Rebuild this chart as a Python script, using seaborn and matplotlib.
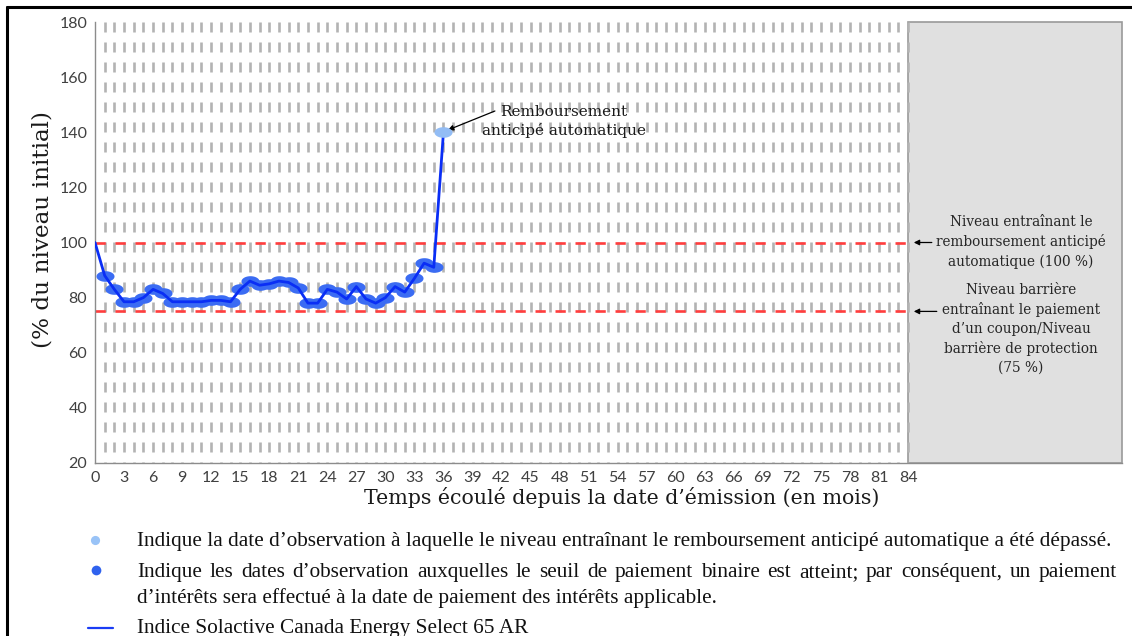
import numpy as np
import matplotlib
matplotlib.use("Agg")
import matplotlib.pyplot as plt
import seaborn as sns
from matplotlib.path import Path
from matplotlib.markers import MarkerStyle
from matplotlib.lines import Line2D

# ---------------- data ----------------
months = list(range(0, 37))
index_level = [100, 88, 83, 78.5, 78.5, 80, 83, 81.5, 78.5, 78.5, 78.5, 78.5, 79, 79,
               78.5, 83, 86, 84.5, 85, 86, 85.5, 83.5, 78, 78, 83, 82, 79.5, 84, 79.5,
               78, 80, 84, 82, 87, 92.5, 91, 140]
coupon_months = list(range(1, 36))
autocall_months = [36]
autocall_barrier = 100
coupon_barrier = 75
term_months = 84
x_ticks = list(range(0, 85, 3))
y_ticks = list(range(20, 181, 20))
grid_months = list(range(1, 85))

xlabel = "Temps écoulé depuis la date d’émission (en mois)"
ylabel = "(% du niveau initial)"
note_autocall = ["Remboursement", "anticipé automatique"]
note_100 = ["Niveau entraînant le", "remboursement anticipé", "automatique (100 %)"]
note_75 = ["Niveau barrière", "entraînant le paiement", "d’un coupon/Niveau",
           "barrière de protection", "(75 %)"]
legend_1 = "Indique la date d’observation à laquelle le niveau entraînant le remboursement anticipé automatique a été dépassé."
legend_2a = "Indique les dates d’observation auxquelles le seuil de paiement binaire est atteint; par conséquent, un paiement"
legend_2b = "d’intérêts sera effectué à la date de paiement des intérêts applicable."
legend_3 = "Indice Solactive Canada Energy Select 65 AR"

# ---------------- style ----------------
sns.set_theme(style="white")
plt.rcParams['lines.scale_dashes'] = False
plt.rcParams['font.family'] = ['DejaVu Sans']

W, H = 1132, 636
fig = plt.figure(figsize=(W / 100, H / 100), dpi=100)
fig.patch.set_facecolor('white')


def fx(px):
    return px / W


def fy(py):
    return 1 - py / H


ax = fig.add_axes([fx(95), fy(463), fx(1122) - fx(95), fy(22) - fy(463)])
ax.set_facecolor('white')
XMAX = 106.1
ax.set_xlim(0, XMAX)
ax.set_ylim(20, 180)

# shaded region after maturity
ax.axvspan(term_months, XMAX, facecolor='#e0e0e0', edgecolor='#9a9a9a',
           linewidth=1.2, zorder=0.5, clip_on=False)

# vertical dashed grid
ax.vlines(grid_months, 180, 20, colors='#b3b3b3', linewidth=1.9,
          linestyles=[(0, (7.2, 7.2))], zorder=1)

# barrier lines
ax.hlines([autocall_barrier, coupon_barrier], 0, term_months, colors='#ff3d3d',
          linewidth=1.9, linestyles=[(0, (7.4, 7.0))], zorder=2)

# ellipse marker
t = np.linspace(0, 2 * np.pi, 64)
ellipse = MarkerStyle(Path(np.column_stack([1.7 * np.cos(t), np.sin(t)])))

sns.scatterplot(x=coupon_months, y=[index_level[m] for m in coupon_months], ax=ax,
                marker=ellipse, s=13 ** 2, color='#3b6cf3', linewidth=0, zorder=3)
sns.lineplot(x=months, y=index_level, ax=ax, color='#0a2ef5', linewidth=2.0, zorder=4)
sns.scatterplot(x=autocall_months, y=[index_level[m] for m in autocall_months], ax=ax,
                marker=ellipse, s=13 ** 2, color='#93bdf5', linewidth=0, zorder=5)

# ticks and spines
ax.set_xticks(x_ticks)
ax.set_yticks(y_ticks)
ax.tick_params(axis='both', direction='out', length=4, width=1, color='#8c8c8c',
               labelcolor='#404040', labelsize=11.5, pad=1.5)
for lab in ax.get_xticklabels() + ax.get_yticklabels():
    lab.set_family('Lato')
for s in ['top', 'right']:
    ax.spines[s].set_visible(False)
for s in ['left', 'bottom']:
    ax.spines[s].set_color('#8c8c8c')
    ax.spines[s].set_linewidth(1.0)
ax.grid(False)

ax.set_xlabel(xlabel, family='DejaVu Serif', fontsize=14, color='#1a1a1a')
ax.set_ylabel(ylabel, family='DejaVu Serif', fontsize=14, color='#1a1a1a')
ax.xaxis.label.set_va('center')
ax.yaxis.label.set_va('center')
ax.xaxis.set_label_coords((622 - 95) / (1122 - 95), (463 - 497) / 441)
ax.yaxis.set_label_coords((43 - 95) / (1122 - 95), (463 - 229) / 441)

# annotations
xd = lambda px: (px - 95) / 9.682
yd = lambda py: 180 - (py - 22) / 2.756
arrow_kw = dict(arrowstyle='-|>', color='black', lw=0.9, mutation_scale=8,
                shrinkA=0, shrinkB=0)
ax.annotate('', xy=(xd(448), yd(130)), xytext=(xd(495), yd(111)), arrowprops=arrow_kw,
            annotation_clip=False)
ax.annotate('', xy=(xd(914), autocall_barrier), xytext=(xd(932), autocall_barrier),
            arrowprops=arrow_kw, annotation_clip=False)
ax.annotate('', xy=(xd(914), coupon_barrier), xytext=(xd(937), coupon_barrier),
            arrowprops=arrow_kw, annotation_clip=False)

serif = 'DejaVu Serif'
txt_auto = [fig.text(fx(564), fy(b), s, ha='center', va='baseline', family=serif,
                     fontsize=10, color='#1a1a1a')
            for s, b in zip(note_autocall, [116, 135.5])]
txt_100 = [fig.text(fx(1021), fy(b), s, ha='center', va='baseline', family=serif,
                    fontsize=9, color='#262626')
           for s, b in zip(note_100, [226.5, 246, 265.5])]
txt_75 = [fig.text(fx(1021), fy(b), s, ha='center', va='baseline', family=serif,
                   fontsize=9, color='#262626')
          for s, b in zip(note_75, [294.5, 314, 333.5, 353, 372])]

# frame
fig.add_artist(Line2D([fx(6.5), fx(1132)], [fy(6.5), fy(6.5)], color='black', lw=2.2))
fig.add_artist(Line2D([fx(6.5), fx(6.5)], [fy(6.5), 0], color='black', lw=2.2))

# legend (below plot)
fig.add_artist(Line2D([fx(95)], [fy(540)], marker='o', ms=6.6, color='#99c3f7',
                      markeredgewidth=0, linestyle='none'))
fig.add_artist(Line2D([fx(96)], [fy(570)], marker='o', ms=7.0, color='#2f62ee',
                      markeredgewidth=0, linestyle='none'))
fig.add_artist(Line2D([fx(88), fx(113)], [fy(627.5), fy(627.5)], color='#1a3cf5', lw=1.6))

leg_font = 'Liberation Serif'
leg_t1 = fig.text(fx(137), fy(546), legend_1, ha='left', va='baseline', family=leg_font,
                  fontsize=13, color='#111111')
leg_t2b = fig.text(fx(137), fy(602.5), legend_2b, ha='left', va='baseline', family=leg_font,
                   fontsize=13, color='#111111')
leg_t3 = fig.text(fx(137), fy(633), legend_3, ha='left', va='baseline', family=leg_font,
                  fontsize=13, color='#111111')

# ---------- fit text sizes to measured widths ----------
fig.canvas.draw()
r = fig.canvas.get_renderer()


def fit_w(t, target):
    w = t.get_window_extent(r).width
    t.set_fontsize(t.get_fontsize() * target / w)
    return t.get_fontsize()


fit_w(ax.xaxis.label, 519)
hy = ax.yaxis.label.get_window_extent(r).height
ax.yaxis.label.set_fontsize(ax.yaxis.label.get_fontsize() * 238 / hy)
fs_auto = fit_w(txt_auto[1], 165)
for tt in txt_auto:
    tt.set_fontsize(fs_auto)
fs_note = fit_w(txt_100[1], 169)
for tt in txt_100 + txt_75:
    tt.set_fontsize(fs_note)
fs_leg = fit_w(leg_t1, 973)
for tt in [leg_t2b, leg_t3]:
    tt.set_fontsize(fs_leg)

# justified first line of item 2
words = legend_2a.split(' ')
word_txt = [fig.text(0, fy(577), wd, ha='left', va='baseline', family=leg_font,
                     fontsize=fs_leg, color='#111111') for wd in words]
widths = [wt.get_window_extent(r).width for wt in word_txt]
gap = (1117 - 137 - sum(widths)) / (len(words) - 1)
xpos = 137
for wt, wd in zip(word_txt, widths):
    wt.set_x(fx(xpos))
    xpos += wd + gap

fig.savefig('out.png', dpi=100, facecolor='white')
